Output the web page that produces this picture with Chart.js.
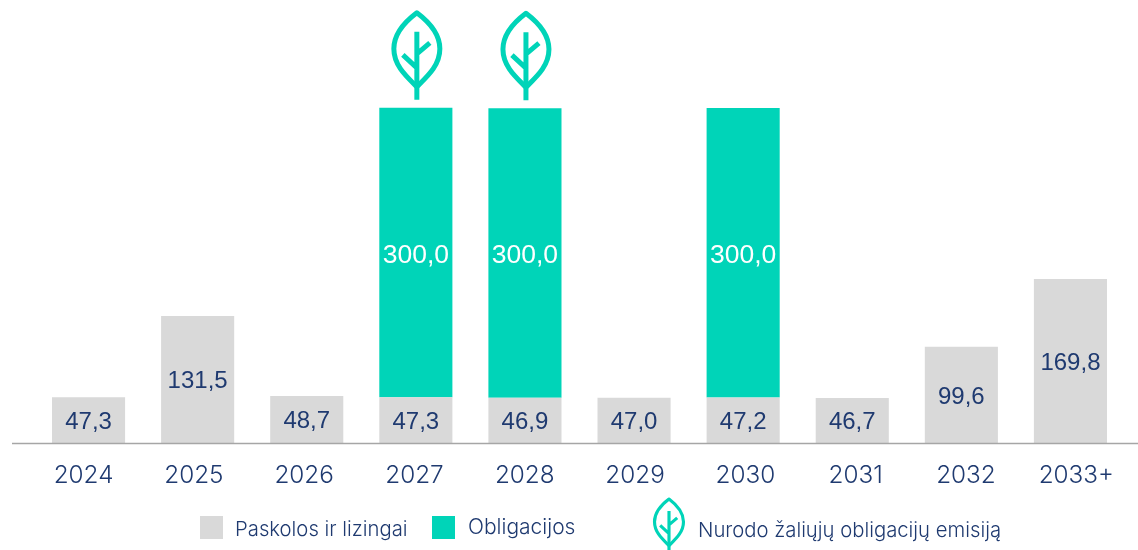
<!DOCTYPE html>
<html lang="lt">
<head>
<meta charset="utf-8">
<title>Paskolų ir obligacijų grąžinimo grafikas</title>
<script src="https://cdn.jsdelivr.net/npm/chart.js@4"></script>
<style>
  html, body { margin: 0; padding: 0; background: #fff; overflow: hidden; }
  canvas { display: block; }
</style>
</head>
<body>
<canvas id="chart" width="1138" height="550"></canvas>
<script>
const years = ["2024", "2025", "2026", "2027", "2028", "2029", "2030", "2031", "2032", "2033+"];
const loans = [47.3, 131.5, 48.7, 47.3, 46.9, 47.0, 47.2, 46.7, 99.6, 169.8];
const bonds = [null, null, null, 300.0, 300.0, null, 300.0, null, null, null];
const greenYears = ["2027", "2028"];
const loansName = "Paskolos ir lizingai";
const bondsName = "Obligacijos";
const greenName = "Nurodo žaliųjų obligacijų emisiją";

const GREY = "#d9d9d9";
const TEAL = "#00d4b8";
const NAVY = "#1f3a70";
const LEGEND_FONT = "300 20.3px Inter";

// lapelis: 0,0 = lapo virsus ant koteles
function drawLeaf(ctx, x, y, scale) {
  ctx.save();
  ctx.translate(x, y);
  ctx.scale(scale, scale);
  ctx.strokeStyle = TEAL;
  ctx.lineWidth = 5;
  ctx.lineJoin = "round";
  ctx.beginPath();
  ctx.moveTo(0, 0);
  ctx.bezierCurveTo(12, 9, 23, 21, 23, 36);
  ctx.bezierCurveTo(23, 53, 10, 64, 0, 74);
  ctx.bezierCurveTo(-10, 64, -23, 53, -23, 36);
  ctx.bezierCurveTo(-23, 21, -12, 9, 0, 0);
  ctx.closePath();
  ctx.stroke();
  ctx.beginPath();
  ctx.moveTo(0, 19);
  ctx.lineTo(0, 87);
  ctx.moveTo(0, 41);
  ctx.lineTo(13, 30);
  ctx.moveTo(0, 55);
  ctx.lineTo(-14, 42);
  ctx.stroke();
  ctx.restore();
}

const extras = {
  id: "extras",
  beforeDraw(chart) {
    // metu etiketes originale isdestytos siek tiek platesniu zingsniu nei stulpeliai
    const x = chart.scales.x;
    x.getLabelItems().forEach((item, j) => {
      item.options.translation[0] = x.getPixelForValue(j) - 5 + 1.2 * j;
    });
  },
  afterDatasetsDraw(chart) {
    const { ctx, chartArea, scales } = chart;
    ctx.save();

    // asies linija
    ctx.strokeStyle = "#a6a6a6";
    ctx.lineWidth = 1.5;
    ctx.beginPath();
    ctx.moveTo(12, chartArea.bottom + 0.5);
    ctx.lineTo(1138, chartArea.bottom + 0.5);
    ctx.stroke();

    // reiksmes ant stulpeliu
    ctx.textAlign = "center";
    ctx.textBaseline = "middle";
    chart.data.datasets.forEach((ds, i) => {
      ctx.font = i === 0 ? "24px 'Liberation Sans'" : "26.5px 'Liberation Sans'";
      chart.getDatasetMeta(i).data.forEach((bar, j) => {
        if (ds.data[j] == null) return;
        ctx.fillStyle = i === 0 ? NAVY : "#ffffff";
        ctx.fillText(ds.data[j].toFixed(1).replace(".", ","), bar.x, (bar.y + bar.base) / 2 + (i === 0 ? 2 : 3));
      });
    });

    // lapeliai virs zaliuju obligaciju
    greenYears.forEach((y) => {
      const j = years.indexOf(y);
      const top = chart.getDatasetMeta(1).data[j].y;
      drawLeaf(ctx, scales.x.getPixelForValue(j) + 1, top - 95, 1);
    });

    // legenda
    ctx.textAlign = "left";
    ctx.textBaseline = "alphabetic";
    ctx.fillStyle = GREY;
    ctx.fillRect(200, 516, 23, 23);
    ctx.fillStyle = TEAL;
    ctx.fillRect(432, 516, 23, 23);
    ctx.fillStyle = NAVY;
    ctx.font = LEGEND_FONT;
    ctx.fillText(loansName, 235, 536);
    ctx.fillText(greenName, 698, 537);
    ctx.font = "300 21px Inter";
    ctx.fillText(bondsName, 468, 534);
    drawLeaf(ctx, 669, 499, 0.63);

    ctx.restore();
  }
};

new Chart(document.getElementById("chart"), {
  type: "bar",
  data: {
    labels: years,
    datasets: [
      { label: loansName, data: loans, backgroundColor: GREY },
      { label: bondsName, data: bonds, backgroundColor: TEAL }
    ]
  },
  options: {
    responsive: false,
    animation: false,
    layout: { padding: { left: 34, right: 13, top: 0, bottom: 0 } },
    datasets: { bar: { categoryPercentage: 1, barPercentage: 0.67 } },
    plugins: { legend: { display: false }, tooltip: { enabled: false } },
    scales: {
      x: {
        stacked: true,
        afterFit(scale) { scale.height = 107; },
        grid: { display: false },
        border: { display: false },
        ticks: { color: NAVY, font: { family: "Inter", size: 24.3, weight: "300" }, padding: 10, maxRotation: 0, autoSkip: false }
      },
      y: { stacked: true, display: false, min: 0, max: 459 }
    }
  },
  plugins: [extras]
});
</script>
</body>
</html>
